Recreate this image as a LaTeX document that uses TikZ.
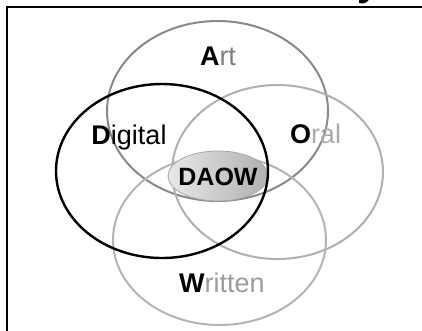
\documentclass[tikz,border=0pt]{standalone}
\usepackage{fontspec}
\setmainfont{Liberation Sans}
\usetikzlibrary{shapes.geometric}

\definecolor{artline}{HTML}{8A8A8A}
\definecolor{oralline}{HTML}{B0B0B0}
\definecolor{writline}{HTML}{B4B4B4}
\definecolor{arttext}{HTML}{7E7E7E}
\definecolor{oraltext}{HTML}{ABABAB}
\definecolor{writtext}{HTML}{9C9C9C}

\tikzset{
  set/.style={ellipse, inner sep=0pt, line width=2pt},
  setlabel/.style={anchor=base, inner sep=0pt, font=\fontsize{27}{27}\selectfont},
  core/.style={ellipse, inner sep=0pt, minimum width=100pt, minimum height=50pt,
    left color=gray!18, right color=gray!62, draw=gray!70, line width=0.8pt}
}

\begin{document}
\begin{tikzpicture}[x=1pt, y=-1pt]
  \useasboundingbox (0,0) rectangle (422,330);
  \fill[white] (0,0) rectangle (422,330);

  % heading above the frame, only its descender falls on the page
  \begin{scope}
    \clip (0,0) rectangle (422,330);
    \node[anchor=base west, inner sep=0pt, font=\fontsize{40}{40}\selectfont\bfseries]
      (heading) at (357,-4.5) {y};
  \end{scope}

  % frame
  \coordinate (frameTL) at (7,7);
  \coordinate (frameTR) at (423,7);
  \coordinate (frameBL) at (7,331);
  \draw[line width=2pt] (frameBL) -- (frameTL) -- (frameTR);

  % the four sets
  \node[set, draw=artline, minimum width=221pt, minimum height=180pt] (art) at (217.5,111) {};
  \node[set, draw=oralline, minimum width=211pt, minimum height=174pt] (oral) at (277.5,172) {};
  \node[set, draw=writline, minimum width=213pt, minimum height=170pt] (written) at (219.5,240) {};

  % common intersection
  \node[core] (daow) at (218,176) {};

  \node[set, draw=black, line width=2.4pt, minimum width=212pt, minimum height=174pt] (digital) at (162,171) {};

  % labels
  \node[setlabel] (artlbl) at (218,65) {\textbf{A}\textcolor{arttext}{rt}};
  \node[setlabel] (digitallbl) at (129,144) {\textbf{D}igital};
  \node[setlabel] (orallbl) at (315.5,143) {\textbf{O}\textcolor{oraltext}{ral}};
  \node[setlabel] (writtenlbl) at (222,292) {\textbf{W}\textcolor{writtext}{ritten}};
  \node[anchor=base, inner sep=0pt, font=\fontsize{25}{25}\selectfont\bfseries] (daowlbl) at (218,185) {DAOW};
\end{tikzpicture}
\end{document}
